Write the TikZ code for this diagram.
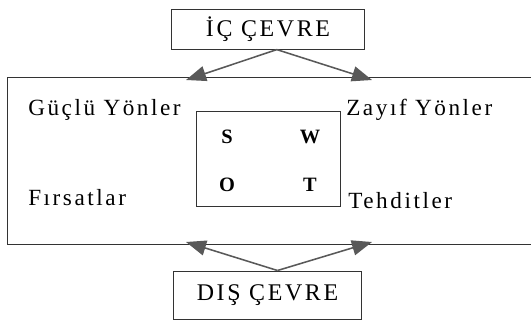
\documentclass[tikz,border=0pt]{standalone}
\usepackage{fontspec}
\setmainfont{Liberation Serif}[LetterSpace=11]
\newfontfamily\harf{Liberation Serif}
\usetikzlibrary{positioning,arrows.meta}

\begin{document}
\begin{tikzpicture}[x=0.025cm,y=-0.025cm,
		ok/.style={draw=black!65, line width=1.1pt, -{Triangle[length=5mm,width=3.8mm,fill=black!65]}}]
		\useasboundingbox (0,0) rectangle (531,322);
		\clip (0,0) rectangle (531,322);
		% kutular
		\node[rectangle, draw=black!80, line width=0.7pt, minimum width=4.8cm, minimum height=0.98cm, font=\fontsize{17}{19}\selectfont] (ic) at (268,29.5) {İÇ ÇEVRE};
		\node[rectangle, draw=black!80, line width=0.7pt, anchor=north west, minimum width=13.9cm, minimum height=4.18cm] (cerceve) at (7,77) {};
		\node[rectangle, draw=black!80, line width=0.7pt, minimum width=3.58cm, minimum height=2.35cm] (swot) at (268.5,159) {};
		\node[rectangle, draw=black!80, line width=0.7pt, minimum width=4.72cm, minimum height=1.2cm, font=\fontsize{17}{19}\selectfont] (dis) at (267.5,295) {DIŞ ÇEVRE};
		% harfler
		\node[font=\harf\bfseries\fontsize{14.5}{16}\selectfont] (s) at (227,137) {S};
		\node[font=\harf\bfseries\fontsize{14.5}{16}\selectfont] (w) at (310,137) {W};
		\node[font=\harf\bfseries\fontsize{14.5}{16}\selectfont] (o) at (227,185) {O};
		\node[font=\harf\bfseries\fontsize{14.5}{16}\selectfont] (t) at (310,185) {T};
		% yazilar
		\node[anchor=base west, inner sep=0pt, font=\fontsize{16.5}{18}\selectfont] (guclu) at (28,115) {Güçlü Yönler};
		\node[anchor=base west, inner sep=0pt, font=\fontsize{16.5}{18}\selectfont] (zayif) at (346,115) {Zayıf Yönler};
		\node[anchor=base west, inner sep=0pt, font=\fontsize{16.5}{18}\selectfont] (firsat) at (28,205) {Fırsatlar};
		\node[anchor=base west, inner sep=0pt, font=\fontsize{16.5}{18}\selectfont] (tehdit) at (348,208) {Tehditler};
		% oklar
		\coordinate (u1) at (186,80);
		\coordinate (u2) at (372,80);
		\coordinate (a1) at (186,242);
		\coordinate (a2) at (372,242);
		\draw[ok] ([xshift=0.22cm]ic.south) -- (u1);
		\draw[ok] ([xshift=0.22cm]ic.south) -- (u2);
		\draw[ok] ([xshift=0.25cm]dis.north) -- (a1);
		\draw[ok] ([xshift=0.25cm]dis.north) -- (a2);
	\end{tikzpicture}
\end{document}
